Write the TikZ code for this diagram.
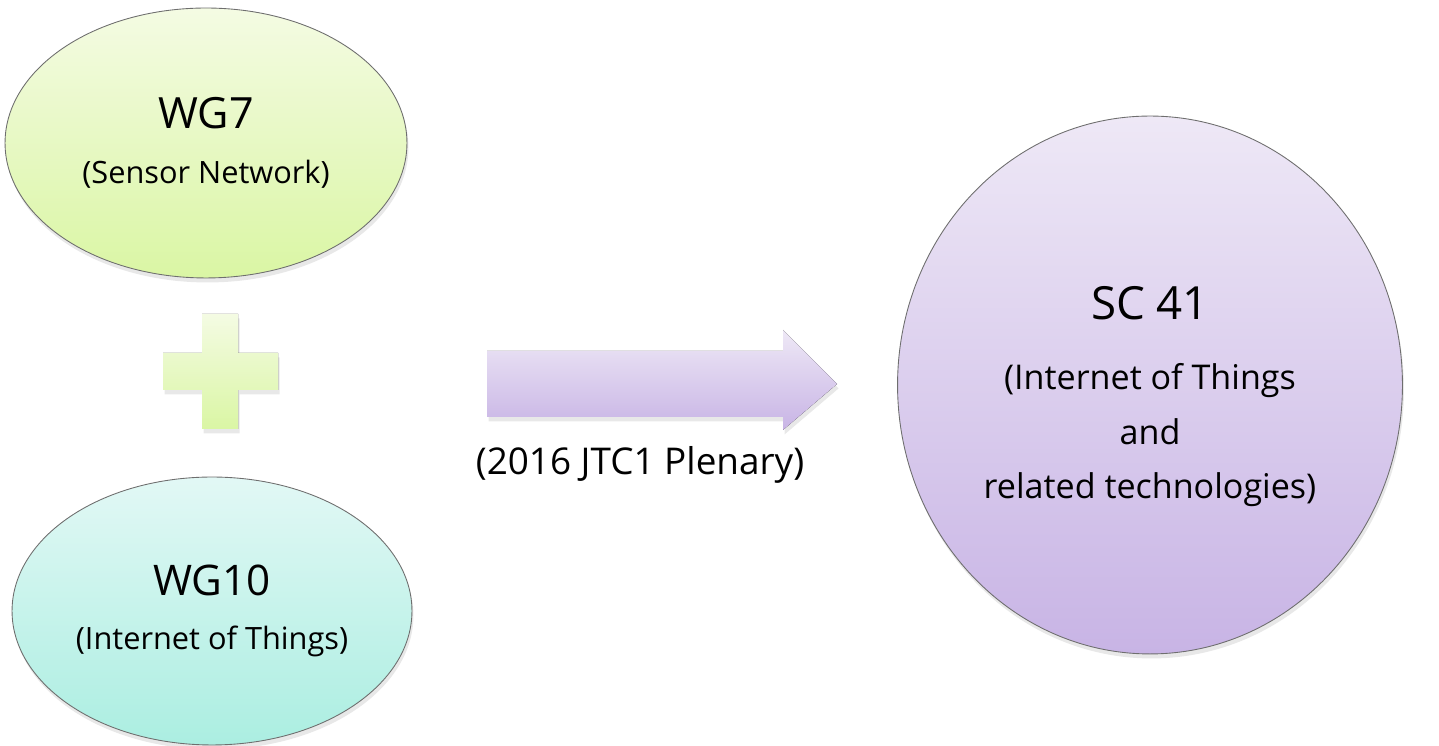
\documentclass[tikz,border=0pt]{standalone}
\usepackage{fontspec}
\setmainfont{Open Sans}
\usepackage{xcolor}
\usepackage{tikz}
\usetikzlibrary{shapes.geometric,shadows,positioning}
\definecolor{limetop}{HTML}{F4FBE3}
\definecolor{limebot}{HTML}{DAF6A4}
\definecolor{aquatop}{HTML}{E2F8F5}
\definecolor{aquabot}{HTML}{ABEEE1}
\definecolor{liltop}{HTML}{EEE8F6}
\definecolor{lilbot}{HTML}{C8B4E5}
\definecolor{rimgray}{HTML}{6E6E6E}

\begin{document}
\begin{tikzpicture}[
  x=0.02cm,y=0.02cm,
  blob/.style={ellipse,draw=rimgray,line width=0.5pt,align=center,inner sep=0pt,
    font=\fontsize{17.5}{31}\selectfont,
    drop shadow={opacity=0.18,shadow xshift=0.03cm,shadow yshift=-0.09cm}},
  greenblob/.style={blob,top color=limetop,bottom color=limebot},
  aquablob/.style={blob,top color=aquatop,bottom color=aquabot},
  lilacblob/.style={blob,top color=liltop,bottom color=lilbot,font=\fontsize{19.4}{31}\selectfont},
  softshadow/.style={drop shadow={opacity=0.18,shadow xshift=0.03cm,shadow yshift=-0.09cm}}
]
\path[use as bounding box] (0,0) rectangle (1439,746);
% working groups
\node[greenblob,minimum width=8.04cm,minimum height=5.4cm] (wgseven) at (206,603)
  {{\fontsize{24.5}{31}\selectfont WG7}\\(Sensor Network)};
\node[aquablob,minimum width=8.0cm,minimum height=5.36cm] (wgten) at (212,135)
  {{\fontsize{24}{31}\selectfont WG10}\\(Internet of Things)};
% plus sign
\fill[top color=limetop,bottom color=limebot,softshadow]
  (202,432) -- (238,432) -- (238,393) -- (278,393) -- (278,356) -- (238,356) -- (238,317)
  -- (202,317) -- (202,356) -- (163,356) -- (163,393) -- (202,393) -- cycle;
% subcommittee
\node[lilacblob,minimum width=10.1cm,minimum height=10.76cm] (scfortyone) at (1150,361)
  {\rule{0pt}{32pt}{\fontsize{26}{31}\selectfont SC 41}\\[9pt](Internet of Things\\and\\related technologies)};
% transition arrow
\fill[top color=liltop,bottom color=lilbot,softshadow]
  (487,329) -- (783,329) -- (783,316) -- (837,362) -- (783,416) -- (783,395) -- (487,395) -- cycle;
\node[font=\fontsize{21}{24}\selectfont] (plenary) at (640,281) {(2016 JTC1 Plenary)};
\end{tikzpicture}
\end{document}
